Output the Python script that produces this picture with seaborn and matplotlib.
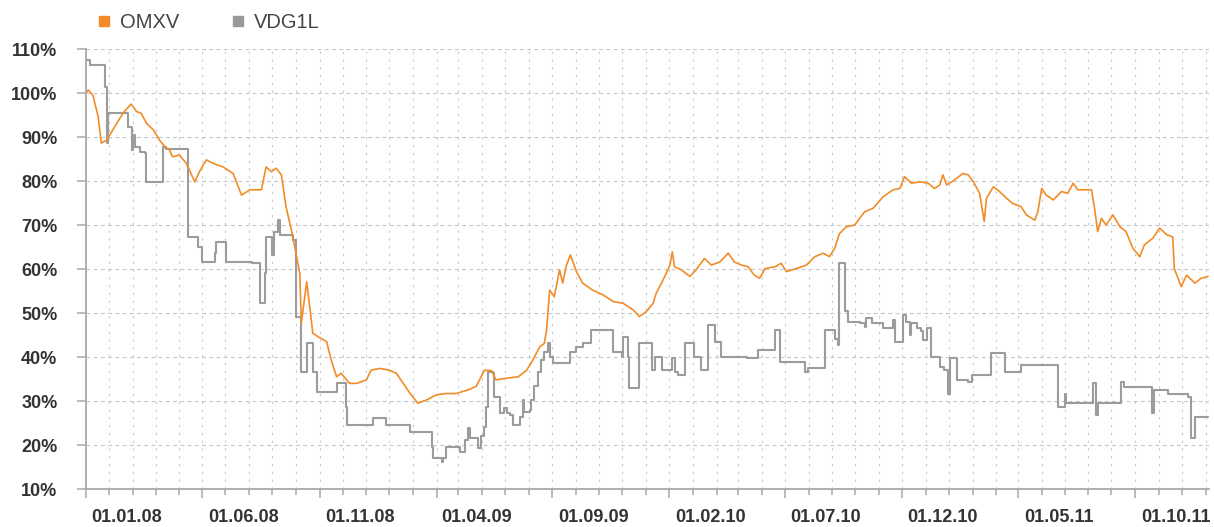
import matplotlib
matplotlib.use("Agg")
import matplotlib.pyplot as plt
from matplotlib.lines import Line2D
from matplotlib.transforms import ScaledTranslation
import pandas as pd
import seaborn as sns

# OMXV index, % of start value
omxv_dates = [
    "2007-11-01", "2007-11-04", "2007-11-10", "2007-11-17", "2007-11-21", "2007-11-28",
    "2007-12-06", "2007-12-15", "2007-12-21", "2007-12-30", "2008-01-06", "2008-01-12",
    "2008-01-19", "2008-01-28", "2008-02-05", "2008-02-12", "2008-02-18", "2008-02-22",
    "2008-03-02", "2008-03-11", "2008-03-22", "2008-03-28", "2008-04-06", "2008-04-15",
    "2008-04-28", "2008-05-11", "2008-05-22", "2008-06-02", "2008-06-17", "2008-06-23",
    "2008-06-30", "2008-07-06", "2008-07-13", "2008-07-19", "2008-07-26", "2008-08-01",
    "2008-08-06", "2008-08-08", "2008-08-15", "2008-08-19", "2008-08-23", "2008-08-30",
    "2008-09-10", "2008-09-16", "2008-09-23", "2008-09-29", "2008-10-10", "2008-10-19",
    "2008-11-01", "2008-11-07", "2008-11-18", "2008-12-01", "2008-12-10", "2008-12-19",
    "2008-12-28", "2009-01-07", "2009-01-18", "2009-01-31", "2009-02-13", "2009-02-26",
    "2009-03-13", "2009-03-24", "2009-04-04", "2009-04-13", "2009-04-19", "2009-05-03",
    "2009-05-18", "2009-05-29", "2009-06-06", "2009-06-15", "2009-06-21", "2009-06-24",
    "2009-06-28", "2009-07-04", "2009-07-11", "2009-07-15", "2009-07-20", "2009-07-25",
    "2009-08-02", "2009-08-10", "2009-08-23", "2009-09-06", "2009-09-19", "2009-10-02",
    "2009-10-15", "2009-10-23", "2009-11-01", "2009-11-10", "2009-11-14", "2009-11-21",
    "2009-11-27", "2009-12-02", "2009-12-05", "2009-12-08", "2009-12-17", "2009-12-28",
    "2010-01-05", "2010-01-16", "2010-01-25", "2010-02-05", "2010-02-16", "2010-02-24",
    "2010-03-05", "2010-03-14", "2010-03-22", "2010-03-29", "2010-04-05", "2010-04-18",
    "2010-04-26", "2010-05-03", "2010-05-16", "2010-05-29", "2010-06-09", "2010-06-20",
    "2010-06-28", "2010-07-05", "2010-07-11", "2010-07-20", "2010-07-31", "2010-08-13",
    "2010-08-24", "2010-09-06", "2010-09-19", "2010-09-28", "2010-10-04", "2010-10-13",
    "2010-10-24", "2010-11-04", "2010-11-12", "2010-11-19", "2010-11-23", "2010-11-28",
    "2010-12-08", "2010-12-19", "2010-12-26", "2011-01-02", "2011-01-10", "2011-01-16",
    "2011-01-19", "2011-01-28", "2011-02-05", "2011-02-14", "2011-02-22", "2011-03-05",
    "2011-03-12", "2011-03-23", "2011-03-27", "2011-04-01", "2011-04-07", "2011-04-16",
    "2011-04-27", "2011-05-05", "2011-05-12", "2011-05-18", "2011-06-05", "2011-06-09",
    "2011-06-13", "2011-06-18", "2011-06-24", "2011-07-03", "2011-07-12", "2011-07-20",
    "2011-07-29", "2011-08-07", "2011-08-13", "2011-08-24", "2011-09-02", "2011-09-11",
    "2011-09-19", "2011-09-21", "2011-09-30", "2011-10-07", "2011-10-18", "2011-10-26",
    "2011-11-04",
]
omxv_values = [
    100.0, 100.7, 99.5, 94.6, 88.6, 89.3,
    91.6, 94.2, 95.8, 97.5, 95.8, 95.4,
    93.1, 91.6, 89.3, 87.8, 87.0, 85.5,
    85.9, 84.0, 79.8, 82.1, 84.8, 84.0,
    83.2, 81.7, 76.8, 78.0, 78.0, 83.2,
    82.1, 82.9, 81.4, 74.2, 68.9, 63.6,
    59.0, 47.7, 57.1, 51.4, 45.4, 44.6,
    43.5, 39.3, 35.5, 36.3, 34.0, 34.0,
    34.8, 37.0, 37.4, 37.0, 36.3, 34.0,
    31.7, 29.5, 30.2, 31.4, 31.7, 31.7,
    32.5, 33.3, 37.0, 36.9, 34.8, 35.2,
    35.5, 37.0, 39.3, 42.3, 43.1, 46.1,
    55.2, 53.7, 59.8, 56.8, 60.9, 63.2,
    59.4, 56.8, 55.2, 54.1, 52.6, 52.2,
    50.7, 49.2, 50.3, 52.2, 54.5, 56.8,
    59.0, 60.9, 63.9, 60.5, 59.8, 58.3,
    59.8, 62.4, 60.9, 61.6, 63.6, 61.6,
    60.9, 60.5, 58.6, 57.9, 60.1, 60.5,
    61.3, 59.4, 60.1, 60.9, 62.8, 63.6,
    62.8, 64.7, 68.0, 69.6, 70.0, 73.0,
    73.8, 76.4, 78.0, 78.3, 81.0, 79.5,
    79.8, 79.5, 78.3, 79.1, 81.4, 79.1,
    80.2, 81.7, 81.4, 79.8, 77.2, 70.8,
    76.1, 78.7, 77.6, 76.1, 74.9, 74.2,
    72.3, 71.1, 73.0, 78.3, 76.8, 75.7,
    77.6, 77.2, 79.5, 78.0, 78.0, 73.8,
    68.5, 71.5, 70.0, 72.3, 69.6, 68.5,
    64.7, 62.8, 65.5, 67.0, 69.3, 67.8,
    67.3, 60.1, 56.0, 58.6, 56.8, 57.9,
    58.3,
]

# VDG1L, % of start value (stepwise quotes)
vdg_dates = [
    "2007-11-01", "2007-11-06", "2007-11-26", "2007-11-28", "2007-11-30", "2007-12-26",
    "2007-12-31", "2008-01-02", "2008-01-04", "2008-01-10", "2008-01-17", "2008-01-19",
    "2008-02-09", "2008-02-14", "2008-03-13", "2008-03-26", "2008-03-31", "2008-04-17",
    "2008-04-19", "2008-05-02", "2008-06-04", "2008-06-15", "2008-06-21", "2008-06-23",
    "2008-07-01", "2008-07-04", "2008-07-08", "2008-07-11", "2008-07-28", "2008-08-01",
    "2008-08-07", "2008-08-15", "2008-08-23", "2008-08-28", "2008-09-23", "2008-10-05",
    "2008-10-06", "2008-11-09", "2008-11-27", "2008-12-28", "2009-01-25", "2009-01-27",
    "2009-02-07", "2009-02-09", "2009-02-13", "2009-03-03", "2009-03-09", "2009-03-13",
    "2009-03-16", "2009-03-26", "2009-03-31", "2009-04-04", "2009-04-06", "2009-04-08",
    "2009-04-15", "2009-04-17", "2009-04-24", "2009-04-30", "2009-05-03", "2009-05-07",
    "2009-05-11", "2009-05-20", "2009-05-24", "2009-05-26", "2009-06-02", "2009-06-04",
    "2009-06-08", "2009-06-13", "2009-06-17", "2009-06-21", "2009-06-26", "2009-06-29",
    "2009-07-02", "2009-07-24", "2009-08-02", "2009-08-10", "2009-08-21", "2009-09-19",
    "2009-09-30", "2009-10-02", "2009-10-08", "2009-10-10", "2009-10-23", "2009-11-08",
    "2009-11-12", "2009-11-21", "2009-12-04", "2009-12-08", "2009-12-12", "2009-12-21",
    "2010-01-02", "2010-01-12", "2010-01-21", "2010-01-30", "2010-02-07", "2010-03-12",
    "2010-03-27", "2010-04-18", "2010-04-24", "2010-05-27", "2010-05-31", "2010-06-22",
    "2010-07-05", "2010-07-09", "2010-07-11", "2010-07-18", "2010-07-22", "2010-08-07",
    "2010-08-13", "2010-08-15", "2010-08-22", "2010-09-06", "2010-09-19", "2010-09-21",
    "2010-10-02", "2010-10-06", "2010-10-11", "2010-10-13", "2010-10-20", "2010-10-26",
    "2010-10-28", "2010-11-02", "2010-11-08", "2010-11-19", "2010-11-25", "2010-11-30",
    "2010-12-02", "2010-12-11", "2010-12-26", "2010-12-31", "2011-01-25", "2011-02-12",
    "2011-03-05", "2011-04-22", "2011-05-01", "2011-05-03", "2011-06-07", "2011-06-11",
    "2011-06-13", "2011-07-14", "2011-07-18", "2011-08-23", "2011-08-26", "2011-09-13",
    "2011-10-09", "2011-10-13", "2011-10-18", "2011-11-04",
]
vdg_values = [
    107.5, 106.4, 101.4, 88.6, 95.4, 92.3,
    87.0, 90.5, 87.8, 86.7, 86.3, 79.8,
    87.8, 87.2, 67.3, 65.1, 61.6, 63.6,
    66.2, 61.6, 61.3, 52.2, 59.0, 67.3,
    63.2, 68.5, 71.1, 67.7, 66.6, 49.2,
    36.7, 43.1, 36.7, 32.1, 34.0, 28.7,
    24.5, 26.1, 24.5, 23.0, 19.6, 17.0,
    16.2, 17.0, 19.6, 18.5, 21.1, 23.8,
    21.5, 19.3, 22.0, 24.2, 28.7, 36.7,
    36.3, 31.0, 27.2, 28.3, 27.2, 26.8,
    24.5, 26.4, 30.2, 27.6, 28.0, 30.2,
    33.3, 36.7, 39.3, 41.2, 43.1, 40.1,
    38.6, 41.2, 42.3, 43.1, 46.1, 41.2,
    40.1, 44.6, 40.1, 32.9, 43.1, 37.0,
    40.1, 37.0, 39.7, 36.7, 35.9, 43.1,
    40.1, 37.0, 47.3, 43.5, 40.1, 39.7,
    41.5, 46.1, 38.9, 36.7, 37.4, 46.1,
    44.2, 42.7, 61.3, 50.5, 48.0, 47.7,
    46.9, 48.8, 47.7, 46.5, 48.4, 43.5,
    49.5, 48.0, 45.0, 47.7, 46.5, 45.8,
    43.9, 46.5, 40.1, 37.8, 37.0, 31.7,
    39.7, 34.8, 34.4, 35.9, 40.8, 36.7,
    38.2, 28.7, 31.7, 29.5, 34.0, 26.8,
    29.5, 34.4, 33.1, 27.2, 32.5, 31.7,
    31.0, 21.5, 26.4, 26.4,
]

x_labels = ["01.01.08", "01.06.08", "01.11.08", "01.04.09", "01.09.09",
            "01.02.10", "01.07.10", "01.12.10", "01.05.11", "01.10.11"]
y_ticks = [10, 20, 30, 40, 50, 60, 70, 80, 90, 100, 110]

ORANGE = "#F28C28"
GRAY = "#9c9c9c"
SPINE = "#a8a8a8"
GRID = "#c3c8cc"
TEXT = "#333333"

sns.set_theme(style="white")
plt.rcParams["font.family"] = ["Liberation Sans", "DejaVu Sans"]

omxv = pd.DataFrame({"date": pd.to_datetime(omxv_dates), "value": omxv_values})
vdg = pd.DataFrame({"date": pd.to_datetime(vdg_dates), "value": vdg_values})

fig = plt.figure(figsize=(12.14, 5.27), dpi=100)
ax = fig.add_axes([0.0708, 0.0721, 0.9249, 0.8349])

sns.lineplot(data=vdg, x="date", y="value", ax=ax, color=GRAY, lw=1.5,
             drawstyle="steps-post", estimator=None, sort=False)
sns.lineplot(data=omxv, x="date", y="value", ax=ax, color=ORANGE, lw=1.2,
             estimator=None, sort=False)

ax.set_xlim(pd.Timestamp("2007-11-01"), pd.Timestamp("2011-11-05"))
ax.set_ylim(10, 110)
ax.set_xlabel("")
ax.set_ylabel("")

# monthly ticks/grid, longer tick every 5 months
months = pd.date_range("2007-11-01", "2011-11-01", freq="MS")
ax.set_xticks(months[::5])
ax.set_xticks(months, minor=True)
ax.tick_params(axis="x", which="major", bottom=True, length=6.5, width=1.1,
               color=SPINE, labelbottom=False)
ax.tick_params(axis="x", which="minor", bottom=True, length=4.3, width=1.1,
               color=SPINE)

ax.set_yticks(y_ticks)
ax.set_yticklabels([f"{v}%" for v in y_ticks])
ax.tick_params(axis="y", left=True, length=6.5, width=1.1, color=SPINE, pad=14,
               labelsize=13, labelcolor=TEXT)
for lbl in ax.get_yticklabels():
    lbl.set_fontweight("bold")

ax.grid(axis="x", which="both", color=GRID, lw=0.8, ls=(0, (2, 5)))
ax.grid(axis="y", which="major", color=GRID, lw=0.8, ls=(0, (3.5, 3)))
ax.set_axisbelow(True)

for side in ["top", "right"]:
    ax.spines[side].set_visible(False)
for side in ["left", "bottom"]:
    ax.spines[side].set_color(SPINE)
    ax.spines[side].set_linewidth(1.3)

# date labels sit slightly left of their month tick
offset = ScaledTranslation(-6 / 100, -33 / 100, fig.dpi_scale_trans)
for d, s in zip(pd.to_datetime(x_labels, format="%d.%m.%y"), x_labels):
    ax.text(d, 0, s, transform=ax.get_xaxis_transform() + offset, ha="center",
            va="baseline", fontsize=13, fontweight="bold", color=TEXT)

handles = [Line2D([], [], marker="s", ls="none", color=ORANGE, markersize=7),
           Line2D([], [], marker="s", ls="none", color="#999999", markersize=7)]
fig.legend(handles, ["OMXV", "VDG1L"], loc="center left",
           bbox_to_anchor=(0.0799, 0.9564), ncol=2, frameon=False, fontsize=14.5,
           handlelength=0.7, handletextpad=0.45, columnspacing=2.55,
           borderpad=0, borderaxespad=0, labelcolor="#444444")

fig.savefig("out.png", dpi=100)
